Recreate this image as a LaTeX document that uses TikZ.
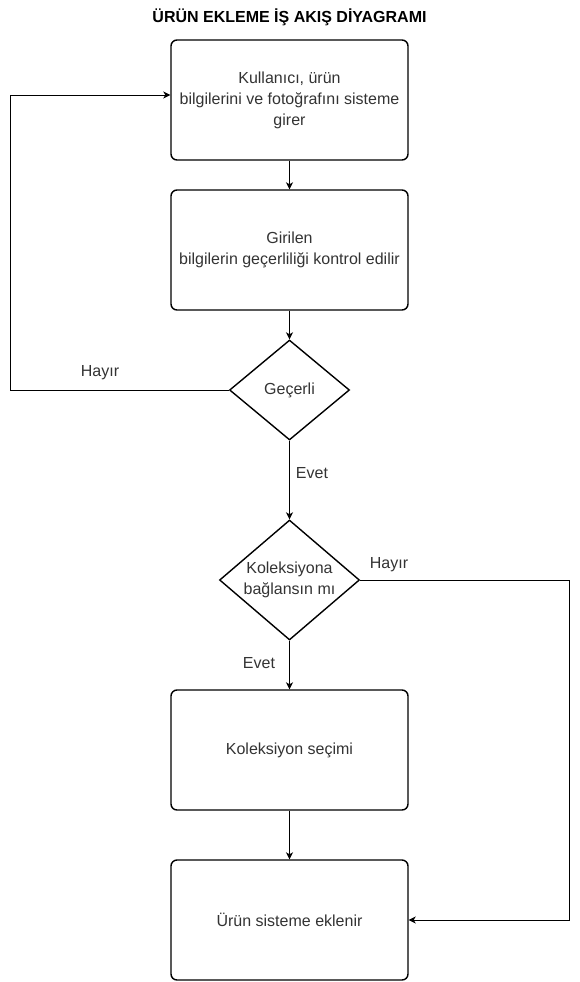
\documentclass[tikz,border=0pt]{standalone}
\usepackage{fontspec}
\setmainfont{Liberation Sans}
\usetikzlibrary{shapes.geometric,arrows.meta}
\definecolor{txt}{HTML}{333333}
\begin{document}
\begin{tikzpicture}[x=1pt,y=1pt,
  box/.style={draw,line width=1.4pt,rounded corners=6pt,minimum width=237pt,minimum height=120pt,inner sep=0pt,align=center,font=\fontsize{16}{21}\selectfont,text=txt},
  dia/.style={draw,line width=1.4pt,diamond,inner sep=-12pt,align=center,font=\fontsize{16}{21}\selectfont,text=txt},
  conn/.style={draw,line width=0.9pt,-{Stealth[length=7pt,width=7pt,inset=2pt]}},
  lbl/.style={font=\fontsize{16}{21}\selectfont,text=txt}]
\useasboundingbox (0,0) rectangle (580,-982);
\node[font=\bfseries\fontsize{16}{18}\selectfont] (title) at (289.5,-17) {ÜRÜN EKLEME İŞ AKIŞ DİYAGRAMI};
\node[box] (b1) at (289.5,-100) {Kullanıcı, ürün\\bilgilerini ve fotoğrafını sisteme\\girer};
\node[box] (b2) at (289.5,-250) {Girilen\\bilgilerin geçerliliği kontrol edilir};
\node[dia,minimum width=120pt,minimum height=100pt] (d1) at (289.5,-390) {Geçerli};
\node[dia,minimum width=140pt,minimum height=120pt] (d2) at (289.5,-580) {Koleksiyona\\bağlansın mı};
\node[box] (b3) at (289.5,-750) {Koleksiyon seçimi};
\node[box] (b4) at (289.5,-920) {Ürün sisteme eklenir};
\coordinate (l1) at (10,-390);
\coordinate (l2) at (10,-95);
\coordinate (r1) at (569.5,-580);
\coordinate (r2) at (569.5,-920);
\draw[conn] (b1) -- (b2);
\draw[conn] (b2) -- (d1);
\draw[conn] (d1) -- (d2);
\draw[conn] (d2) -- (b3);
\draw[conn] (b3) -- (b4);
\draw[conn] (d1.west) -- (l1) -- (l2) -- (b1.west |- l2);
\draw[conn] (d2.east) -- (r1) -- (r2) -- (b4.east);
\node[lbl] (h1) at (100,-373) {Hayır};
\node[lbl] (e1) at (312,-473) {Evet};
\node[lbl] (h2) at (389,-565) {Hayır};
\node[lbl] (e2) at (259,-663) {Evet};
\end{tikzpicture}
\end{document}
